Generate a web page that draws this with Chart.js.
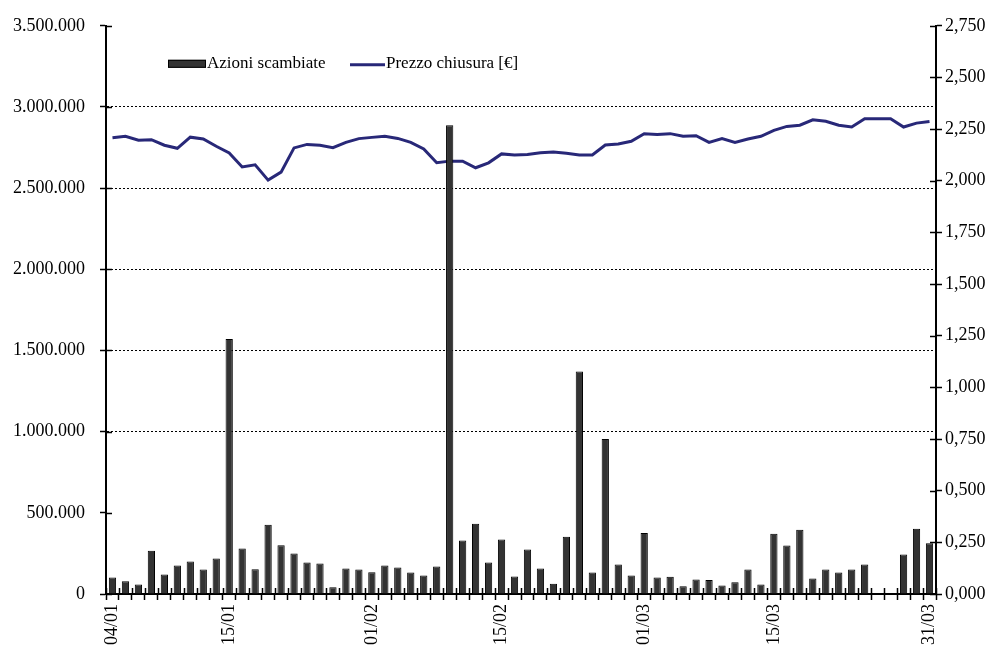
<!DOCTYPE html>
<html>
<head>
<meta charset="utf-8">
<script src="https://cdn.jsdelivr.net/npm/chart.js@4.4.1/dist/chart.umd.min.js"></script>
<style>
  html, body { margin: 0; padding: 0; background: #fff; }
  #wrap { width: 995px; height: 646px; position: relative; }
</style>
</head>
<body>
<div id="wrap"><canvas id="chart"></canvas></div>
<script>
// Trading days, first quarter
const dates = [
  '04/01','05/01','06/01','07/01','08/01','11/01','12/01','13/01','14/01','15/01',
  '18/01','19/01','20/01','21/01','22/01','25/01','26/01','27/01','28/01','29/01',
  '01/02','02/02','03/02','04/02','05/02','08/02','09/02','10/02','11/02','12/02',
  '15/02','16/02','17/02','18/02','19/02','22/02','23/02','24/02','25/02','26/02','27/02',
  '01/03','02/03','03/03','04/03','05/03','08/03','09/03','10/03','11/03','12/03',
  '15/03','16/03','17/03','18/03','19/03','22/03','23/03','24/03','25/03','26/03',
  '29/03','30/03','31/03'
];

// Dates printed under the axis
const shownDates = ['04/01', '15/01', '01/02', '15/02', '01/03', '15/03', '31/03'];

// Shares traded per day
const volumes = [
  102000, 78000, 59000, 267000, 120000, 176000, 200000, 151000, 218000, 1570000,
  280000, 153000, 426000, 300000, 249000, 194000, 188000, 41000, 157000, 151000,
  134000, 176000, 163000, 132000, 114000, 169000, 2888000, 329000, 433000, 194000,
  335000, 108000, 274000, 157000, 63000, 353000, 1371000, 132000, 955000, 182000, 114000,
  375000, 102000, 106000, 47000, 90000, 86000, 53000, 72000, 151000, 59000,
  371000, 298000, 396000, 96000, 151000, 133000, 151000, 182000, 0, 0,
  243000, 402000, 312000
];

// Closing price in euro
const closePrices = [
  2.208, 2.215, 2.196, 2.199, 2.172, 2.157, 2.211, 2.202, 2.167, 2.135,
  2.067, 2.077, 2.003, 2.042, 2.159, 2.176, 2.172, 2.160, 2.186, 2.204,
  2.210, 2.215, 2.205, 2.186, 2.154, 2.087, 2.095, 2.095, 2.063, 2.087,
  2.130, 2.125, 2.127, 2.136, 2.139, 2.133, 2.125, 2.125, 2.173, 2.178, 2.191,
  2.228, 2.224, 2.228, 2.215, 2.218, 2.186, 2.204, 2.186, 2.202, 2.215,
  2.244, 2.263, 2.269, 2.295, 2.288, 2.269, 2.260, 2.300, 2.300, 2.300,
  2.260, 2.279, 2.287
];

const volumeTicks = { min: 0, max: 3500000, step: 500000 };
const priceTicks = { min: 0, max: 2.75, step: 0.25 };

const BAR_FILL = '#333333';
const LINE_COLOR = '#282878';
const FONT = "'Liberation Serif', 'Times New Roman', serif";

function fmtThousands(v) {
  return String(Math.round(v)).replace(/\B(?=(\d{3})+(?!\d))/g, '.');
}
function fmtPrice(v) {
  return v.toFixed(3).replace('.', ',');
}

// Excel-style tick marks that cross the axis lines (inner half)
const innerTicks = {
  id: 'innerTicks',
  afterDraw(chart) {
    const { ctx, chartArea: a, scales } = chart;
    ctx.save();
    ctx.strokeStyle = '#000';
    ctx.lineWidth = 1.5;
    ctx.beginPath();
    scales.yVol.ticks.forEach(t => {
      const y = Math.round(scales.yVol.getPixelForValue(t.value)) + 0.5;
      ctx.moveTo(a.left, y); ctx.lineTo(a.left + 6, y);
    });
    scales.yPrice.ticks.forEach(t => {
      const y = Math.round(scales.yPrice.getPixelForValue(t.value)) + 0.5;
      ctx.moveTo(a.right - 6, y); ctx.lineTo(a.right, y);
    });
    for (let i = 0; i <= dates.length; i++) {
      const x = Math.round(scales.x.getPixelForValue(i - 0.5)) + 0.5;
      ctx.moveTo(x, a.bottom - 6); ctx.lineTo(x, a.bottom);
    }
    ctx.stroke();
    ctx.restore();
  }
};

// Legend drawn inside the plot area
const insideLegend = {
  id: 'insideLegend',
  afterDraw(chart) {
    const { ctx, chartArea: a } = chart;
    const ds = chart.data.datasets;
    const y = a.top + 38;
    ctx.save();
    ctx.font = '17px ' + FONT;
    ctx.fillStyle = '#000';
    ctx.textBaseline = 'middle';
    // bar entry
    let x = a.left + 62;
    ctx.fillStyle = ds[0].backgroundColor;
    ctx.fillRect(x, y - 4, 38, 8);
    ctx.strokeStyle = '#000';
    ctx.lineWidth = 1;
    ctx.strokeRect(x + 0.5, y - 3.5, 37, 7);
    ctx.fillStyle = '#000';
    ctx.fillText(ds[0].label, x + 39, y);
    // line entry
    x = a.left + 244;
    ctx.strokeStyle = ds[1].borderColor;
    ctx.lineWidth = 3;
    ctx.beginPath();
    ctx.moveTo(x, y + 1); ctx.lineTo(x + 35, y + 1);
    ctx.stroke();
    ctx.fillText(ds[1].label, x + 36, y);
    ctx.restore();
  }
};

Chart.defaults.font.family = FONT;
Chart.defaults.font.size = 18;
Chart.defaults.color = '#000';

new Chart(document.getElementById('chart'), {
  type: 'bar',
  data: {
    labels: dates,
    datasets: [
      {
        type: 'bar',
        label: 'Azioni scambiate',
        data: volumes,
        yAxisID: 'yVol',
        backgroundColor: BAR_FILL,
        borderColor: '#000',
        borderWidth: 1,
        categoryPercentage: 1,
        barPercentage: 0.56
      },
      {
        type: 'line',
        label: 'Prezzo chiusura [€]',
        data: closePrices,
        yAxisID: 'yPrice',
        borderColor: LINE_COLOR,
        backgroundColor: LINE_COLOR,
        borderWidth: 3,
        pointRadius: 0,
        tension: 0,
        fill: false
      }
    ]
  },
  plugins: [innerTicks, insideLegend],
  options: {
    responsive: true,
    maintainAspectRatio: false,
    animation: false,
    events: [],
    layout: { padding: { left: 12, right: 0, top: 22, bottom: 0 } },
    plugins: {
      legend: { display: false },
      tooltip: { enabled: false }
    },
    scales: {
      x: {
        offset: true,
        grid: {
          offset: true,
          drawOnChartArea: false,
          drawTicks: true,
          tickLength: 6,
          tickColor: '#000',
          tickWidth: 1.5
        },
        border: { display: true, color: '#000', width: 2 },
        ticks: {
          autoSkip: false,
          minRotation: 90,
          maxRotation: 90,
          padding: 4,
          font: { size: 18 },
          callback(value) {
            const d = dates[value];
            return shownDates.includes(d) ? d : '';
          }
        },
        afterFit(scale) { scale.height = 52; }
      },
      yVol: {
        position: 'left',
        min: volumeTicks.min,
        max: volumeTicks.max,
        ticks: {
          stepSize: volumeTicks.step,
          padding: 15,
          font: { size: 18 },
          callback: v => fmtThousands(v)
        },
        grid: {
          color: ctx => {
            const v = ctx.tick ? ctx.tick.value : 0;
            return (v >= 1000000 && v <= 3000000) ? '#000' : 'rgba(0,0,0,0)';
          },
          lineWidth: 1,
          tickLength: 6,
          tickColor: '#000',
          tickWidth: 1.5
        },
        border: { display: true, color: '#000', width: 2, dash: [2, 2] },
        afterFit(scale) { scale.width = 94; }
      },
      yPrice: {
        position: 'right',
        min: priceTicks.min,
        max: priceTicks.max,
        ticks: {
          stepSize: priceTicks.step,
          padding: 3,
          font: { size: 18 },
          callback: v => fmtPrice(v)
        },
        grid: {
          drawOnChartArea: false,
          tickLength: 6,
          tickColor: '#000',
          tickWidth: 1.5
        },
        border: { display: true, color: '#000', width: 2 },
        afterFit(scale) { scale.width = 59; }
      }
    }
  }
});
</script>
</body>
</html>
